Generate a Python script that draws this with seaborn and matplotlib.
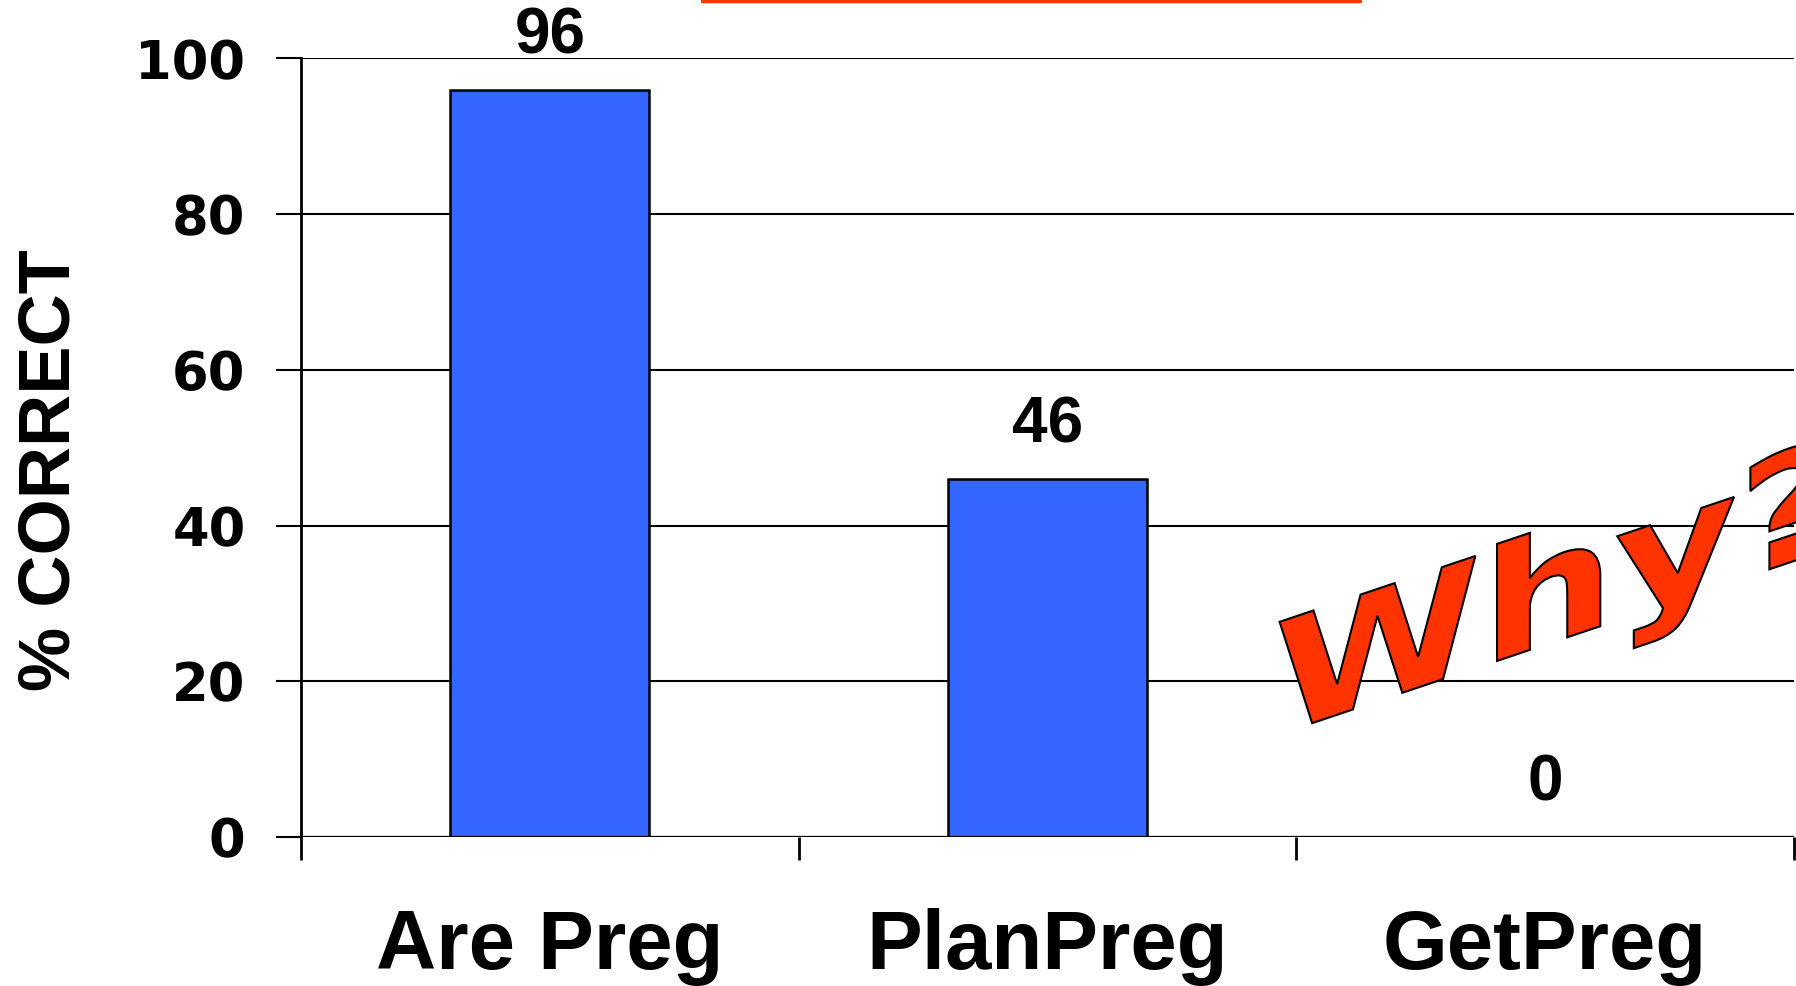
import numpy as np
import pandas as pd
import matplotlib
matplotlib.use("Agg")
import matplotlib.pyplot as plt
import seaborn as sns
from matplotlib.textpath import TextPath
from matplotlib.patches import PathPatch
from matplotlib.font_manager import FontProperties
from matplotlib.transforms import Affine2D, IdentityTransform
from matplotlib.lines import Line2D

# ── data ─────────────────────────────────────────────────────
CATEGORIES = ["Are Preg", "PlanPreg", "GetPreg"]
VALUES     = [96, 46, 0]
Y_TICKS    = [0, 20, 40, 60, 80, 100]
BAR_COLOR  = "#3366FF"
RED        = "#FF3300"

sns.set_style("white")
plt.rcParams["font.family"] = ["Liberation Sans", "DejaVu Sans"]
plt.rcParams["text.color"] = "black"
plt.rcParams["axes.labelcolor"] = "black"
plt.rcParams["xtick.color"] = "black"
plt.rcParams["ytick.color"] = "black"

df = pd.DataFrame({"cat": CATEGORIES, "val": VALUES})

fig = plt.figure(figsize=(17.96, 9.86), dpi=100)
ax = fig.add_axes([0.1676, 0.1511, 0.8313, 0.7897])

sns.barplot(data=df, x="cat", y="val", color=BAR_COLOR, saturation=1,
            width=0.4, edgecolor="black", linewidth=1.8, ax=ax, zorder=3)

ax.set_xlim(-0.5, 2.5)
ax.set_ylim(0, 100)

# gridlines
ax.set_yticks(Y_TICKS)
ax.yaxis.grid(True, color="black", linewidth=1.5, zorder=0)
ax.set_axisbelow(True)
for s in ["top", "right", "bottom"]:
    ax.spines[s].set_visible(False)
ax.spines["left"].set_linewidth(2)
ax.spines["left"].set_color("black")
ax.axhline(0, color="black", linewidth=1.6, zorder=4)

ax.set_yticklabels([str(t) for t in Y_TICKS], fontsize=38,
                   fontweight="heavy", family="DejaVu Sans")
ax.tick_params(axis="y", direction="out", length=18, width=1.5,
               color="black", pad=22, left=True)

# category ticks at boundaries, labels at centers
ax.set_xticks([-0.5, 0.5, 1.5, 2.5])
ax.set_xticklabels([])
ax.tick_params(axis="x", which="major", direction="out", length=16.5,
               width=2, color="black", bottom=True)
ax.set_xticks(range(len(CATEGORIES)), minor=True)
ax.set_xticklabels(CATEGORIES, minor=True, fontsize=60, fontweight="bold")
ax.tick_params(axis="x", which="minor", length=0, pad=51)
ax.set_xlabel("")

ax.set_ylabel("% CORRECT", fontsize=52, fontweight="bold", va="center")
ax.yaxis.set_label_coords(-0.168, 0.471)

# value labels
for i, v in enumerate(VALUES):
    ax.annotate(str(v), (i, v), xytext=(0, 26), textcoords="offset points",
                ha="center", va="baseline", fontsize=46, fontweight="bold")

# "Why?" word-art
tp = TextPath((0, 0), "Why?", size=154,
              prop=FontProperties(family="DejaVu Sans", weight="bold"))
tr = Affine2D().scale(1.22, 1).skew_deg(0, 18.6).translate(1274, 250)
fig.add_artist(PathPatch(tp, transform=tr + IdentityTransform(),
                         facecolor=RED, edgecolor="black", linewidth=1.5,
                         zorder=5))

# red line at top (clipped title underline)
fig.add_artist(Line2D([702 / 1796, 1360 / 1796], [1 - 1 / 986, 1 - 1 / 986],
                      transform=fig.transFigure, color=RED, linewidth=2.5))

fig.savefig("out.png", dpi=100)
